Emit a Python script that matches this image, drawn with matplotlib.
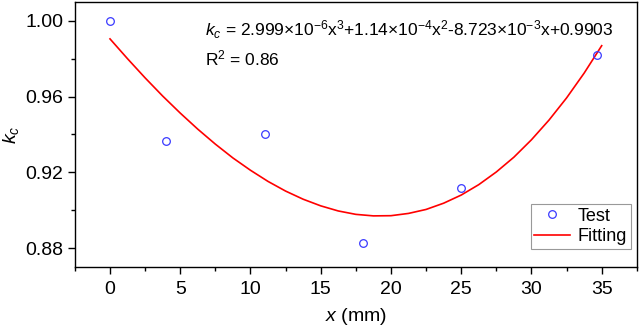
import numpy as np
import matplotlib
matplotlib.use('Agg')
import matplotlib.pyplot as plt
from matplotlib.ticker import MultipleLocator

plt.rcParams['font.family'] = ['Liberation Sans', 'DejaVu Sans']
plt.rcParams['mathtext.fontset'] = 'custom'
plt.rcParams['mathtext.rm'] = 'Liberation Sans'
plt.rcParams['mathtext.it'] = 'Liberation Sans:italic'

# test data
test_x = [0, 4, 11, 18, 25, 34.7]
test_kc = [1.000, 0.9367, 0.9402, 0.8827, 0.9116, 0.982]

# fitted curve
fit_x = [0, 1.25, 2.5, 3.75, 5, 6.25, 7.5, 8.75, 10, 11.25, 12.5, 13.75, 15,
         16.25, 17.5, 18.75, 20, 21.25, 22.5, 23.75, 25, 26.25, 27.5, 28.75,
         30, 31.25, 32.5, 33.75, 35]
fit_kc = [0.9905, 0.9800, 0.9699, 0.9603, 0.9513, 0.9428, 0.9349, 0.9276,
          0.9211, 0.9152, 0.9101, 0.9058, 0.9023, 0.8996, 0.8978, 0.8970,
          0.8971, 0.8983, 0.9004, 0.9037, 0.9080, 0.9135, 0.9202, 0.9280,
          0.9372, 0.9476, 0.9593, 0.9724, 0.9869]

fig = plt.figure(figsize=(6.4, 3.28), dpi=100)
ax = fig.add_axes([0.117, 0.186, 0.878, 0.808])

ax.plot(test_x, test_kc, 'o', mfc='none', mec='#3a3aff', ms=5.5, mew=0.9,
        label='Test', zorder=3)
ax.plot(fit_x, fit_kc, '-', color='red', lw=1.2, label='Fitting')

ax.set_xlim(-2.5, 37.5)
ax.set_ylim(0.87, 1.01)
ax.xaxis.set_major_locator(MultipleLocator(5))
ax.xaxis.set_minor_locator(MultipleLocator(2.5))
ax.yaxis.set_minor_locator(MultipleLocator(0.02))
ax.set_yticks([0.88, 0.92, 0.96, 1.00])
ax.set_yticklabels(['0.88', '0.92', '0.96', '1.00'])
ax.tick_params(which='major', direction='out', length=5, width=1, labelsize=14)
ax.tick_params(axis='x', which='major', pad=5)
ax.tick_params(which='minor', direction='out', length=3, width=1)
for s in ax.spines.values():
    s.set_linewidth(1.0)

ax.set_xlabel('$x$ (mm)', fontsize=14, labelpad=6)
ax.set_ylabel('$k_c$', fontsize=14, labelpad=3)

ax.text(0.231, 0.873, r'$k_c$ = 2.999×10$^{-6}$x$^3$+1.14×10$^{-4}$x$^2$-8.723×10$^{-3}$x+0.9903',
        transform=ax.transAxes, fontsize=12.5, va='baseline')
ax.text(0.231, 0.762, r'R$^2$ = 0.86', transform=ax.transAxes, fontsize=12.5,
        va='baseline')

leg = ax.legend(loc='lower right', bbox_to_anchor=(0.989, 0.068), fontsize=13,
                frameon=True, fancybox=False, edgecolor='gray',
                handlelength=2.0, handletextpad=0.4, borderpad=0.2,
                labelspacing=0.2, borderaxespad=0.0)
leg.get_frame().set_linewidth(0.8)

fig.savefig('out.png', dpi=100)
